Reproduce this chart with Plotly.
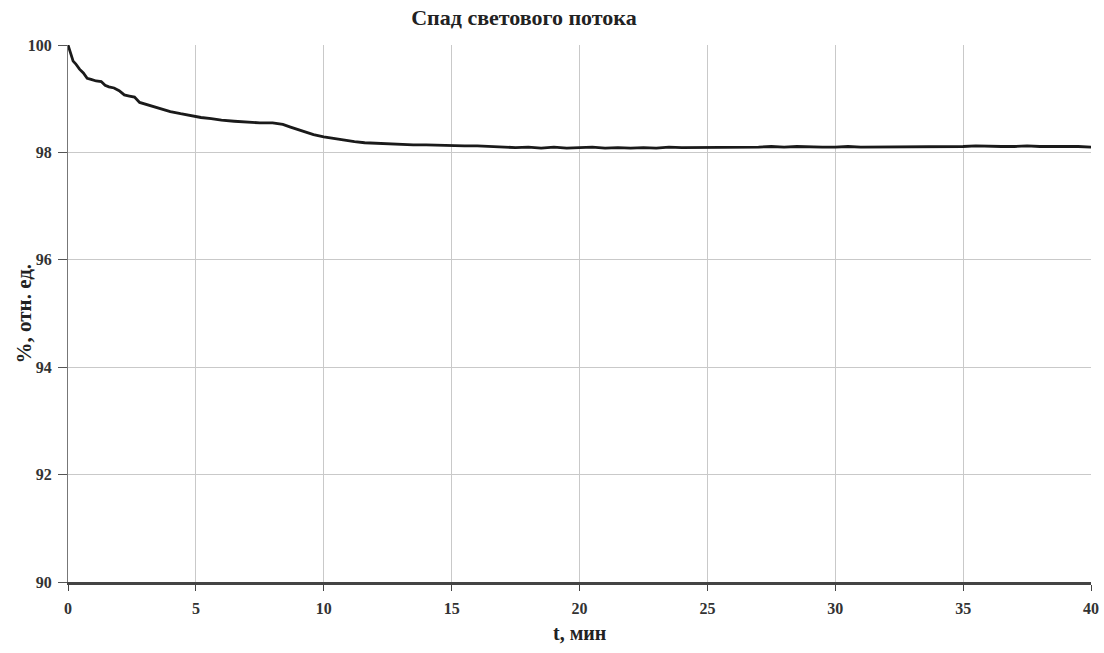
import plotly.graph_objects as go

t_min = [0, 0.1, 0.2, 0.3, 0.45, 0.6, 0.75, 0.9, 1.1, 1.3, 1.45, 1.6, 1.8, 2.0, 2.2, 2.4, 2.6, 2.8,
         3.0, 3.3, 3.6, 4.0, 4.4, 4.8, 5.2, 5.6, 6.0, 6.5, 7.0, 7.5, 8.0, 8.4, 8.7, 9.0, 9.3, 9.6,
         10.0, 10.4, 10.8, 11.2, 11.6, 12.0, 12.5, 13.0, 13.5, 14.0, 14.5, 15.0, 15.5, 16.0, 16.5,
         17.0, 17.5, 18.0, 18.5, 19.0, 19.5, 20.0, 20.5, 21.0, 21.5, 22.0, 22.5, 23.0, 23.5, 24.0,
         24.5, 25.0, 25.5, 26.0, 26.5, 27.0, 27.5, 28.0, 28.5, 29.0, 29.5, 30.0, 30.5, 31.0, 31.5,
         32.0, 32.5, 33.0, 33.5, 34.0, 34.5, 35.0, 35.5, 36.0, 36.5, 37.0, 37.5, 38.0, 38.5, 39.0,
         39.5, 40.0]
flux_pct = [100.0, 99.85, 99.7, 99.65, 99.55, 99.48, 99.38, 99.36, 99.33, 99.32, 99.25, 99.22, 99.2,
            99.15, 99.07, 99.05, 99.03, 98.93, 98.9, 98.86, 98.81, 98.76, 98.72, 98.68, 98.65, 98.63,
            98.6, 98.58, 98.56, 98.55, 98.55, 98.52, 98.47, 98.42, 98.37, 98.33, 98.29, 98.26, 98.22,
            98.2, 98.18, 98.17, 98.16, 98.15, 98.14, 98.14, 98.13, 98.13, 98.12, 98.12, 98.11, 98.11,
            98.09, 98.1, 98.08, 98.1, 98.08, 98.09, 98.1, 98.08, 98.09, 98.08, 98.09, 98.08, 98.1,
            98.09, 98.09, 98.09, 98.09, 98.09, 98.09, 98.1, 98.11, 98.1, 98.11, 98.1, 98.1, 98.1,
            98.11, 98.1, 98.1, 98.1, 98.11, 98.1, 98.1, 98.1, 98.1, 98.11, 98.12, 98.11, 98.11,
            98.11, 98.12, 98.11, 98.11, 98.12, 98.11, 98.1]

x_ticks = [0, 5, 10, 15, 20, 25, 30, 35, 40]
y_ticks = [90, 92, 94, 96, 98, 100]

font_family = "Liberation Serif, Times New Roman, serif"

fig = go.Figure()
fig.add_trace(go.Scatter(x=t_min, y=flux_pct, mode="lines",
                         line=dict(color="#1a1a1a", width=2.8), showlegend=False))

fig.update_layout(
    width=1104, height=653,
    margin=dict(l=68, r=13, t=45, b=71),
    paper_bgcolor="white", plot_bgcolor="white",
    title=dict(text="Спад светового потока", x=0.4746, xanchor="center", y=0.985, yanchor="top",
               font=dict(family=font_family, size=22, color="#222", weight="bold")),
    font=dict(family=font_family, color="#333"),
    xaxis=dict(range=[0, 40], tickvals=x_ticks, ticks="outside", ticklen=6, tickcolor="#444",
               showgrid=True, gridcolor="#c9c9c9", gridwidth=1, automargin=False,
               showline=True, linecolor="#444", linewidth=2.5, zeroline=False,
               ticklabelstandoff=4,
               tickfont=dict(family=font_family, size=16, color="#333", weight="bold")),
    yaxis=dict(range=[90, 100], tickvals=y_ticks, ticks="outside", ticklen=9, tickcolor="#555",
               showgrid=True, gridcolor="#c9c9c9", gridwidth=1, automargin=False,
               showline=True, linecolor="#777", linewidth=1, zeroline=False,
               ticklabelstandoff=3,
               tickfont=dict(family=font_family, size=16, color="#333", weight="bold")),
    annotations=[
        dict(text="t, мин", xref="paper", yref="paper", x=0.5, y=-51 / 537,
             xanchor="center", yanchor="middle", showarrow=False,
             font=dict(family=font_family, size=20, color="#222", weight="bold")),
        dict(text="%, отн. ед.", xref="paper", yref="paper", x=-45 / 1023, y=0.5,
             xanchor="center", yanchor="middle", showarrow=False, textangle=-90,
             font=dict(family=font_family, size=21, color="#222", weight="bold")),
    ],
)

fig.write_html("out.html")
